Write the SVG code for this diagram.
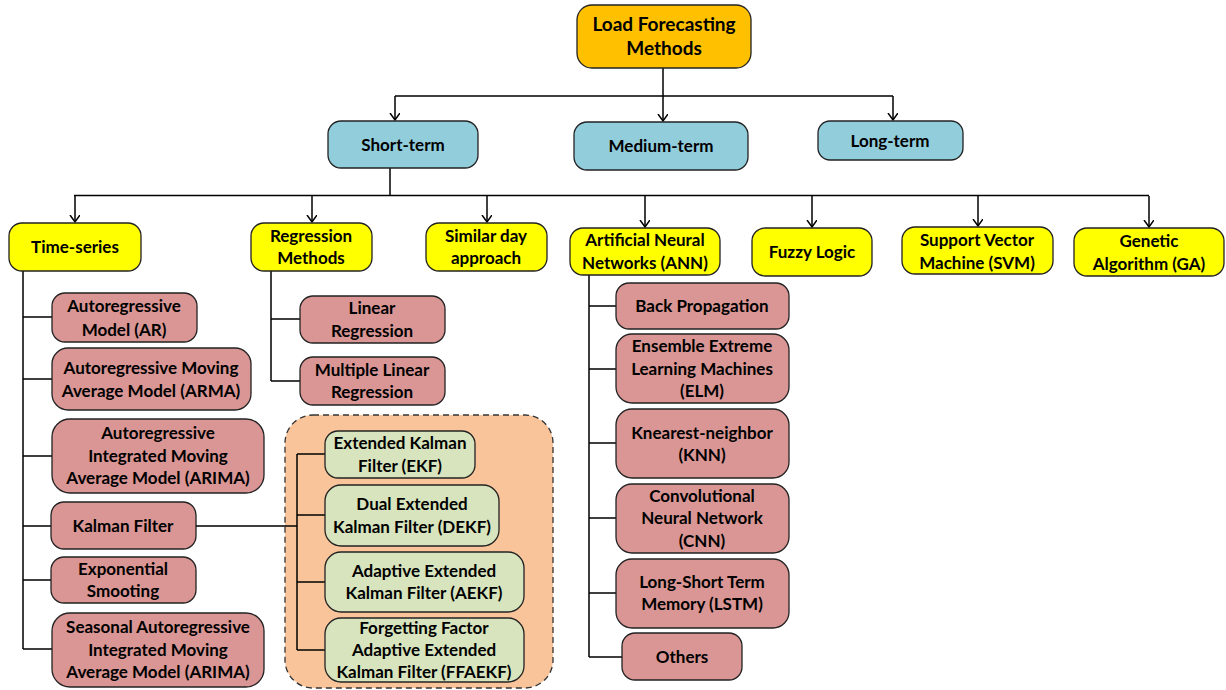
<svg xmlns="http://www.w3.org/2000/svg" width="1226" height="690" viewBox="0 0 1226 690">
<style>
.b{stroke:#222;stroke-width:1.3}
.root{fill:#FFC000}
.blue{fill:#92CDDC}
.yel{fill:#FFFF00}
.pink{fill:#D99694}
.green{fill:#D7E4BD}
.cont{fill:#F9C49A;stroke:#333;stroke-width:1.3;stroke-dasharray:6 4}
text{font-family:Lato,"Open Sans","Liberation Sans",sans-serif;font-weight:bold;font-size:17px;fill:#000;text-anchor:middle}
.big{font-size:19px}
.c{fill:none;stroke:#000;stroke-width:1.5}
</style>
<defs>
<marker id="ar" markerUnits="userSpaceOnUse" markerWidth="10" markerHeight="12" refX="7" refY="5" orient="auto" viewBox="0 0 10 12">
<path d="M0,0 L7,5 L0,10" fill="none" stroke="#000" stroke-width="1.5"/>
</marker>
</defs>
<g id="connectors">
<path class="c" d="M395,96 H893"/>
<path class="c" d="M663,68 V121" marker-end="url(#ar)"/>
<path class="c" d="M395,96 V120" marker-end="url(#ar)"/>
<path class="c" d="M893,96 V120" marker-end="url(#ar)"/>
<path class="c" d="M390,168 V196"/>
<path class="c" d="M74,195.5 H1149"/>
<path class="c" d="M75,196 V222" marker-end="url(#ar)"/>
<path class="c" d="M312,196 V222" marker-end="url(#ar)"/>
<path class="c" d="M487,196 V222" marker-end="url(#ar)"/>
<path class="c" d="M645,196 V227" marker-end="url(#ar)"/>
<path class="c" d="M812,196 V227" marker-end="url(#ar)"/>
<path class="c" d="M978,196 V226" marker-end="url(#ar)"/>
<path class="c" d="M1149,196 V227" marker-end="url(#ar)"/>
<path class="c" d="M23,271 V649 M23,317 H52 M23,379 H52 M23,456 H52 M23,526 H51 M23,580 H51 M23,649 H52"/>
<path class="c" d="M271,271 V381 M271,319 H300 M271,381 H300"/>
<path class="c" d="M589,275 V657 M589,306 H616 M589,369 H616 M589,443 H616 M589,518 H616 M589,593 H616 M589,657 H622"/>
</g>
<g id="root"><rect class="b root" x="577" y="5" width="174" height="63" rx="15"/><text class="big" x="664" y="31">Load Forecasting</text><text class="big" x="664" y="55">Methods</text></g>
<g id="short"><rect class="b blue" x="328" y="121" width="150" height="47" rx="13"/><text x="403" y="151">Short-term</text></g>
<g id="medium"><rect class="b blue" x="574" y="122" width="174" height="48" rx="13"/><text x="661" y="152">Medium-term</text></g>
<g id="long"><rect class="b blue" x="818" y="121" width="145" height="39" rx="12"/><text x="890" y="147">Long-term</text></g>

<g id="timeseries"><rect class="b yel" x="9" y="223" width="132" height="48" rx="13"/><text x="75" y="253">Time-series</text></g>
<g id="regression"><rect class="b yel" x="251" y="223" width="121" height="48" rx="13"/><text x="311" y="242">Regression</text><text x="311" y="264">Methods</text></g>
<g id="similar"><rect class="b yel" x="426" y="223" width="121" height="48" rx="13"/><text x="486" y="242">Similar day</text><text x="486" y="264">approach</text></g>
<g id="ann"><rect class="b yel" x="570" y="228" width="150" height="47" rx="13"/><text x="645" y="246">Artificial Neural</text><text x="645" y="269">Networks (ANN)</text></g>
<g id="fuzzy"><rect class="b yel" x="752" y="228" width="120" height="48" rx="13"/><text x="812" y="258">Fuzzy Logic</text></g>
<g id="svm"><rect class="b yel" x="902" y="227" width="151" height="47" rx="13"/><text x="977" y="246">Support Vector</text><text x="977" y="269">Machine (SVM)</text></g>
<g id="ga"><rect class="b yel" x="1074" y="228" width="150" height="48" rx="13"/><text x="1149" y="247">Genetic</text><text x="1149" y="270">Algorithm (GA)</text></g>

<g id="ar-model"><rect class="b pink" x="52" y="293" width="145" height="49" rx="13"/><text x="124" y="312">Autoregressive</text><text x="124" y="336">Model (AR)</text></g>
<g id="arma"><rect class="b pink" x="52" y="348" width="199" height="62" rx="16"/><text x="151" y="374">Autoregressive Moving</text><text x="151" y="397">Average Model (ARMA)</text></g>
<g id="arima"><rect class="b pink" x="52" y="419" width="212" height="74" rx="18"/><text x="158" y="439">Autoregressive</text><text x="158" y="462">Integrated Moving</text><text x="158" y="484">Average Model (ARIMA)</text></g>
<g id="kalman"><rect class="b pink" x="51" y="502" width="145" height="47" rx="13"/><text x="123" y="532">Kalman Filter</text></g>
<g id="exponential"><rect class="b pink" x="51" y="557" width="145" height="46" rx="13"/><text x="123" y="575">Exponential</text><text x="123" y="597">Smooting</text></g>
<g id="sarima"><rect class="b pink" x="52" y="613" width="212" height="74" rx="18"/><text x="158" y="633">Seasonal Autoregressive</text><text x="158" y="656">Integrated Moving</text><text x="158" y="678">Average Model (ARIMA)</text></g>

<g id="linear"><rect class="b pink" x="300" y="296" width="145" height="47" rx="13"/><text x="372" y="314">Linear</text><text x="372" y="337">Regression</text></g>
<g id="multiple"><rect class="b pink" x="300" y="357" width="145" height="48" rx="13"/><text x="372" y="376">Multiple Linear</text><text x="372" y="398">Regression</text></g>

<g id="kalman-variants">
<rect class="cont" x="285" y="415" width="268" height="273" rx="28"/>
<path class="c" d="M196,526 H297 M297,454 V650 M297,454 H325 M297,515 H325 M297,582 H325 M297,650 H325"/>
</g>
<g id="ekf"><rect class="b green" x="325" y="431" width="150" height="47" rx="13"/><text x="400" y="449">Extended Kalman</text><text x="400" y="472">Filter (EKF)</text></g>
<g id="dekf"><rect class="b green" x="325" y="485" width="174" height="61" rx="16"/><text x="412" y="510">Dual Extended</text><text x="412" y="533">Kalman Filter (DEKF)</text></g>
<g id="aekf"><rect class="b green" x="325" y="552" width="199" height="60" rx="16"/><text x="424" y="577">Adaptive Extended</text><text x="424" y="599">Kalman Filter (AEKF)</text></g>
<g id="ffaekf"><rect class="b green" x="325" y="618" width="199" height="64" rx="16"/><text x="424" y="634">Forgetting Factor</text><text x="424" y="656">Adaptive Extended</text><text x="424" y="678">Kalman Filter (FFAEKF)</text></g>

<g id="backprop"><rect class="b pink" x="616" y="283" width="173" height="46" rx="13"/><text x="702" y="312">Back Propagation</text></g>
<g id="elm"><rect class="b pink" x="616" y="334" width="173" height="69" rx="16"/><text x="702" y="352">Ensemble Extreme</text><text x="702" y="375">Learning Machines</text><text x="702" y="397">(ELM)</text></g>
<g id="knn"><rect class="b pink" x="616" y="409" width="173" height="69" rx="16"/><text x="702" y="439">Knearest-neighbor</text><text x="702" y="461">(KNN)</text></g>
<g id="cnn"><rect class="b pink" x="616" y="484" width="173" height="69" rx="16"/><text x="702" y="502">Convolutional</text><text x="702" y="524">Neural Network</text><text x="702" y="547">(CNN)</text></g>
<g id="lstm"><rect class="b pink" x="616" y="559" width="173" height="69" rx="16"/><text x="702" y="588">Long-Short Term</text><text x="702" y="610">Memory (LSTM)</text></g>
<g id="others"><rect class="b pink" x="622" y="633" width="120" height="47" rx="13"/><text x="682" y="663">Others</text></g>
</svg>
